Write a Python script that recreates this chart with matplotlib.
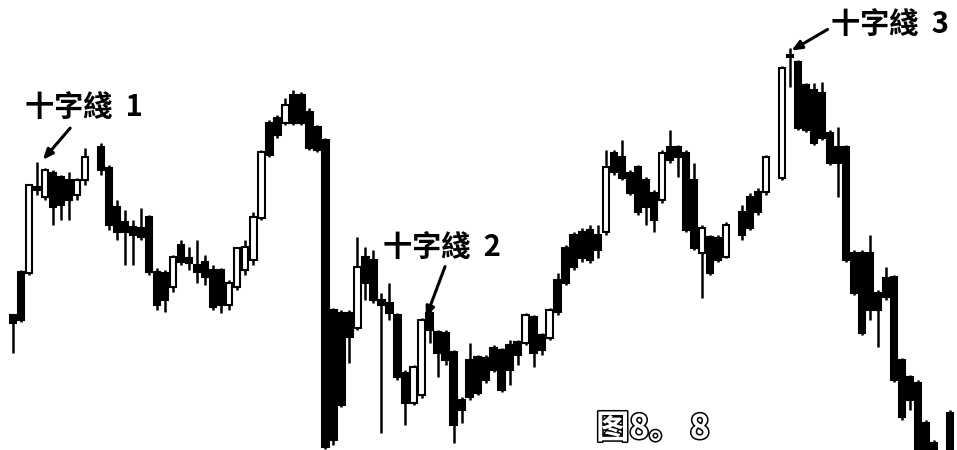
import numpy as np
import matplotlib
matplotlib.use("Agg")
import matplotlib.pyplot as plt
import matplotlib.patheffects as pe

plt.rcParams['font.family'] = ['Noto Sans CJK TC', 'Noto Sans CJK SC', 'DejaVu Sans']

nan = np.nan
opens = [135, 178, 177, 263, 253, 277, 273, 270, 255, 270, nan, 303, 282, 243, 228, 223, 222, 233, 178, 177,
         163, 205, 192, 185, 188, 180, 180, 145, 163, 180, 190, 232, 327, 332, 327, 355, 355, 338, 323, 310,
         140, 137, 137, 122, 193, 190, 150, 147, 135, 77, 47, 55, 137, 118, 117, 98, 50, 90, 93, 92,
         102, 100, 105, 108, 107, 133, 115, 112, 170, 202, 215, 218, 220, 215, 218, 297, 293, 277, 283, 270,
         257, 250, 303, 303, 297, 270, 197, 213, 212, 193, nan, 238, 253, 258, 258, nan, 272, 395, 388, 365,
         360, 357, 317, 303, 303, 197, 197, 197, 157, 172, 173, 90, 73, 67, 27, 7, nan, 37]
highs = [135, 180, 265, 288, 282, 280, 275, 278, 272, 302, nan, 307, 285, 250, 240, 230, 242, 235, 182, 180,
         195, 210, 203, 210, 195, 185, 182, 170, 203, 210, 238, 300, 330, 335, 352, 360, 358, 342, 325, 312,
         142, 140, 140, 213, 203, 200, 157, 167, 137, 80, 85, 132, 140, 120, 120, 100, 53, 107, 95, 95,
         105, 102, 110, 110, 137, 135, 117, 142, 177, 205, 218, 222, 225, 225, 300, 300, 310, 280, 285, 273,
         260, 300, 320, 305, 300, 287, 225, 215, 215, 228, nan, 245, 257, 262, 295, nan, 384, 402, 390, 367,
         367, 368, 320, 323, 305, 200, 200, 215, 160, 183, 175, 92, 75, 70, 30, 10, nan, 40]
lows = [97, 128, 175, 255, 250, 225, 230, 230, 250, 265, nan, 275, 220, 210, 185, 185, 210, 175, 140, 138,
        158, 185, 180, 167, 165, 140, 137, 140, 160, 175, 185, 230, 293, 312, 325, 325, 325, 300, 298, 1,
        5, 43, 87, 120, 150, 147, 17, 130, 70, 25, 45, 52, 107, 73, 85, 7, 27, 50, 55, 67,
        78, 58, 65, 85, 105, 83, 95, 110, 135, 165, 180, 188, 187, 192, 215, 275, 270, 255, 235, 225,
        218, 247, 287, 273, 218, 200, 152, 175, 188, 192, nan, 210, 220, 235, 255, nan, 270, 363, 320, 318,
        305, 310, 285, 253, 188, 155, 115, 130, 103, 150, 68, 30, 40, 0, 0, 0, nan, 0]
closes = [127, 130, 265, 260, 280, 243, 245, 250, 270, 293, nan, 280, 225, 218, 218, 215, 213, 178, 145, 150,
          193, 188, 187, 178, 173, 143, 145, 167, 202, 203, 233, 298, 295, 315, 345, 327, 327, 302, 300, 3,
          10, 45, 113, 183, 167, 150, 145, 137, 73, 47, 83, 130, 120, 97, 90, 25, 40, 53, 57, 70,
          80, 60, 80, 95, 135, 97, 100, 140, 138, 167, 183, 192, 190, 200, 283, 278, 272, 257, 238, 243,
          230, 297, 290, 293, 220, 202, 222, 177, 190, 225, nan, 215, 222, 238, 293, nan, 382, 393, 322, 320,
          307, 312, 287, 287, 190, 157, 117, 140, 140, 153, 70, 33, 50, 0, 0, 0, nan, 0]

labels = ['十字綫  1', '十字綫  2', '十字綫  3']
caption = '图8。 8'

W, H = 957, 450
fig = plt.figure(figsize=(W / 100, H / 100), dpi=100)
ax = fig.add_axes([0, 0, 1, 1])
ax.set_axis_off()

n = len(opens)
step = 8.01
xmin = -13 / step
ax.set_xlim(xmin, xmin + W / step)
ax.set_ylim(0, 450)

bw = 0.8
for i in range(n):
    o, h, l, c = opens[i], highs[i], lows[i], closes[i]
    if np.isnan(o):
        continue
    ax.vlines(i, l, h, color='black', linewidth=1.8, zorder=2)
    up = c > o
    bottom = min(o, c)
    height = max(abs(c - o), 1.5)
    ax.bar(i, height, bottom=bottom, width=bw,
           facecolor='white' if up else 'black', edgecolor='black',
           linewidth=1.5, zorder=3)

def fx(px):
    return px / W

def fy(py):
    return 1 - py / H

txt_kw = dict(transform=ax.transAxes, fontsize=21, fontweight='bold', color='black',
              ha='left', va='center', zorder=5)
ax.text(fx(25), fy(107), labels[0], **txt_kw)
ax.text(fx(383), fy(247), labels[1], **txt_kw)
ax.text(fx(831), fy(24), labels[2], **txt_kw)

arrows = [((72, 126), (41, 162)), ((446, 264), (425, 320)), ((830, 28), (789, 52))]
for (x0, y0), (x1, y1) in arrows:
    ax.annotate('', xy=(fx(x1), fy(y1)), xytext=(fx(x0), fy(y0)),
                xycoords='axes fraction', textcoords='axes fraction',
                arrowprops=dict(arrowstyle='-|>,head_length=0.6,head_width=0.25',
                                color='black', linewidth=2.2), zorder=5)

ax.text(fx(596), fy(429), caption, transform=ax.transAxes, fontsize=24,
        fontweight='bold', color='white', ha='left', va='center', zorder=6,
        family=['Noto Sans CJK SC', 'DejaVu Sans'],
        path_effects=[pe.withStroke(linewidth=2.2, foreground='black')])

fig.savefig('out.png', dpi=100, facecolor='white')
